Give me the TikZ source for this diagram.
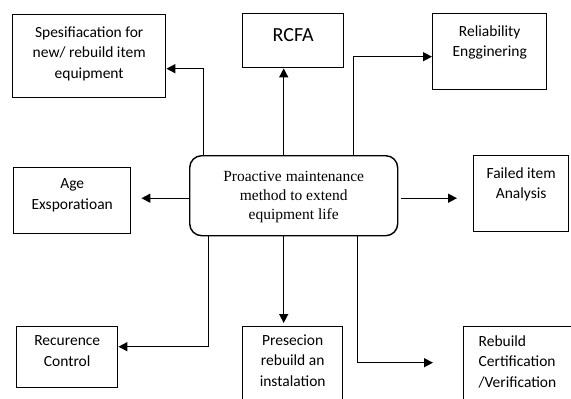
\documentclass[tikz,border=0pt]{standalone}
\usepackage{fontspec}
\setmainfont{Carlito}
\newfontfamily\hubfont{Liberation Serif}
\usetikzlibrary{arrows.meta}
% box text: width, height, top gap, lines
\newcommand{\boxtxt}[4]{\parbox[c][#2][t]{#1}{\vspace*{#3}\centering #4\par}}

\begin{document}
\begin{tikzpicture}[x=1pt,y=-1pt,
  block/.style={draw, line width=1.4pt, inner sep=0pt, anchor=north west,
    font=\fontsize{15.5}{20.5}\selectfont},
  arr/.style={line width=1.4pt, -{Triangle[length=9pt,width=9pt]}}]
\useasboundingbox (0,0) rectangle (571,399);
\clip (0,0) rectangle (571,399);

% Boxes
\node[block] (spec) at (12,14) {\boxtxt{153pt}{83pt}{12pt}{Spesifiacation for\\new/ rebuild item\\equipment}};
\node[block] (rcfa) at (242,13) {\boxtxt{101pt}{54pt}{15pt}{\fontsize{20}{24}\selectfont RCFA}};
\node[block] (rel) at (432,13) {\boxtxt{114pt}{76pt}{12pt}{Reliability\\Engginering}};
\node[block] (age) at (13,167) {\boxtxt{117pt}{66pt}{11pt}{Age\\Exsporatioan}};
\node[block] (failed) at (473,155) {\boxtxt{95pt}{76pt}{12pt}{Failed item\\Analysis}};
\node[block, rounded corners=12pt] (hub) at (189,155) {\boxtxt{208pt}{80pt}{16pt}{\hubfont\fontsize{15.5}{19}\selectfont Proactive maintenance\\method to extend\\equipment life}};
\node[block] (rec) at (16,326) {\boxtxt{101pt}{61pt}{9pt}{Recurence\\Control}};
\node[block] (prec) at (242,326) {\boxtxt{100pt}{90pt}{8pt}{Presecion\\rebuild an\\instalation}};
\node[block] (rebuild) at (463,326) {\boxtxt{122pt}{90pt}{9pt}{\raggedright\leftskip=15pt Rebuild\\Certification\\/Verification}};

% Connectors
\draw[arr] ([xshift=-90pt]hub.north) |- ([yshift=-12.5pt]spec.east);
\draw[arr] ([xshift=-10pt]hub.north) -- ([xshift=-10pt]hub.north |- rcfa.south);
\draw[arr] ([xshift=60pt]hub.north) |- ([yshift=-5pt]rel.west);
\draw[arr, shorten >=10pt] ([yshift=-2.5pt]hub.west) -- ([yshift=-2.5pt]hub.west -| age.east);
\draw[arr, shorten >=16pt] ([xshift=3pt,yshift=-2.5pt]hub.east) -- ([yshift=-2.5pt]hub.east -| failed.west);
\draw[arr] ([xshift=-85pt]hub.south) |- ([yshift=10.5pt]rec.east);
\draw[arr, shorten >=3pt] ([xshift=-10pt]hub.south) -- ([xshift=-10pt]hub.south |- prec.north);
\draw[arr, shorten >=30pt] ([xshift=64pt]hub.south) |- ([yshift=9pt]rebuild.west);

\end{tikzpicture}
\end{document}
